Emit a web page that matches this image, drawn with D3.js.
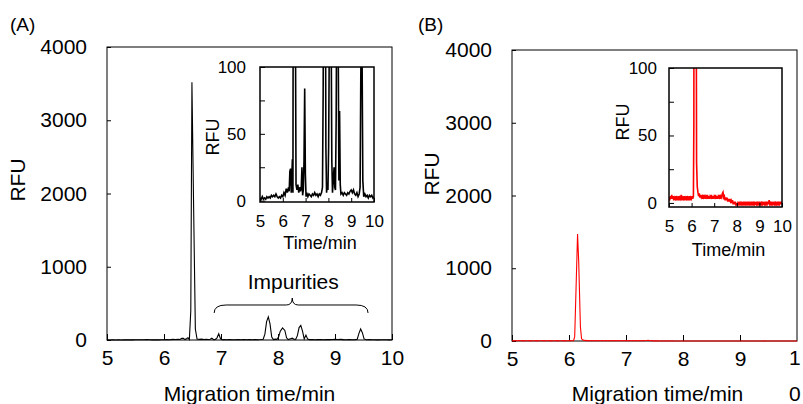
<!DOCTYPE html>
<html>
<head>
<meta charset="utf-8">
<script src="https://cdn.jsdelivr.net/npm/d3@7"></script>
<style>
body{margin:0;background:#fff;}
text{font-family:"Liberation Sans",Arial,sans-serif;fill:#000;}
</style>
</head>
<body>
<div id="container"></div>
<script>
var W = 803, H = 404;

// ticks
var xTicks = [5,6,7,8,9,10];
var mainYTicks = [0,1000,2000,3000,4000];
var insetYTicks = [0,50,100];
var insetMinor = [25,75];

// electropherogram (A) : [time/min, RFU]
var traceA = [
 [5.00,2],[5.05,1],[5.10,3],[5.15,1],[5.20,2],[5.25,1],[5.30,3],[5.35,2],[5.40,3],[5.45,2],
 [5.50,4],[5.55,3],[5.60,4],[5.65,3],[5.70,5],[5.75,3],[5.80,2],[5.85,3],[5.90,2],[5.95,4],
 [6.00,3],[6.05,6],[6.10,4],[6.15,9],[6.20,6],[6.25,10],[6.28,7],[6.31,22],[6.34,24],[6.37,6],
 [6.40,20],[6.42,31],[6.445,6],[6.47,400],[6.49,3520],[6.52,1800],[6.55,150],[6.58,12],[6.62,8],[6.66,12],
 [6.70,6],[6.74,10],[6.78,7],[6.81,10],[6.84,25],[6.87,4],[6.90,8],[6.93,30],[6.96,84],[6.99,20],
 [7.02,3],[7.05,6],[7.10,3],[7.15,5],[7.20,4],[7.25,3],[7.30,5],[7.35,4],[7.40,6],[7.45,4],
 [7.50,5],[7.55,3],[7.60,5],[7.65,4],[7.70,6],[7.74,10],[7.77,80],[7.80,250],[7.83,315],[7.86,220],
 [7.89,40],[7.92,6],[7.95,12],[7.98,8],[8.01,40],[8.04,120],[8.08,165],[8.12,130],[8.15,30],[8.18,6],
 [8.22,18],[8.25,25],[8.28,10],[8.31,8],[8.34,60],[8.37,170],[8.40,200],[8.43,120],[8.46,15],[8.49,67],
 [8.52,12],[8.55,5],[8.60,6],[8.65,4],[8.70,6],[8.75,5],[8.80,4],[8.85,6],[8.90,5],[8.95,7],
 [9.00,8],[9.05,6],[9.10,8],[9.15,5],[9.20,4],[9.25,6],[9.30,3],[9.35,5],[9.39,10],[9.42,90],
 [9.45,150],[9.48,100],[9.51,15],[9.55,3],[9.60,5],[9.65,3],[9.70,4],[9.75,2],[9.80,4],[9.85,3],
 [9.90,4],[9.95,2],[10.00,3]
];

// electropherogram (B)
var traceB = [
 [5.00,4],[5.03,2],[5.06,5],[5.09,3],[5.12,6],[5.15,3],[5.18,5],[5.21,2],[5.24,4],[5.27,3],
 [5.30,5],[5.33,2],[5.36,4],[5.39,3],[5.42,5],[5.45,2],[5.48,4],[5.51,3],[5.54,6],[5.57,2],
 [5.60,4],[5.63,3],[5.66,5],[5.69,2],[5.72,4],[5.75,3],[5.78,5],[5.81,2],[5.84,4],[5.87,3],
 [5.90,5],[5.93,2],[5.96,4],[5.99,3],[6.02,5],[6.05,3],[6.08,5],[6.10,60],[6.13,900],[6.15,1470],
 [6.17,1100],[6.20,200],[6.22,30],[6.25,12],[6.28,8],[6.31,5],[6.34,7],[6.37,4],[6.40,6],[6.43,4],
 [6.46,5],[6.49,3],[6.52,6],[6.55,4],[6.58,5],[6.61,3],[6.64,5],[6.67,4],[6.70,6],[6.73,3],
 [6.76,5],[6.79,3],[6.82,5],[6.85,4],[6.88,6],[6.91,3],[6.94,5],[6.97,3],[7.00,5],[7.03,4],
 [7.06,6],[7.09,3],[7.12,5],[7.15,3],[7.18,5],[7.21,4],[7.24,6],[7.27,3],[7.30,5],[7.33,4],
 [7.36,7],[7.39,8],[7.42,4],[7.45,5],[7.48,2],[7.51,4],[7.54,2],[7.57,4],[7.60,1],[7.63,3],
 [7.66,1],[7.69,3],[7.72,1],[7.75,2],[7.78,0],[7.81,2],[7.84,-1],[7.87,1],[7.90,-1],[7.93,1],
 [7.96,-2],[7.99,0],[8.02,-2],[8.05,0],[8.08,-1],[8.11,1],[8.14,-1],[8.17,0],[8.20,-2],[8.23,0],
 [8.26,-1],[8.29,1],[8.32,-1],[8.35,0],[8.38,-2],[8.41,0],[8.44,-1],[8.47,1],[8.50,-1],[8.53,0],
 [8.56,-2],[8.59,0],[8.62,-1],[8.65,1],[8.68,-1],[8.71,0],[8.74,-2],[8.77,1],[8.80,-1],[8.83,0],
 [8.86,-1],[8.89,1],[8.92,-2],[8.95,0],[8.98,-1],[9.01,1],[9.04,-1],[9.07,0],[9.10,-2],[9.13,1],
 [9.16,-1],[9.19,0],[9.22,-1],[9.25,1],[9.28,-2],[9.31,0],[9.34,-1],[9.37,1],[9.40,-1],[9.43,2],
 [9.46,-1],[9.49,0],[9.52,-2],[9.55,1],[9.58,-1],[9.61,0],[9.64,-1],[9.67,1],[9.70,-2],[9.73,0],
 [9.76,-1],[9.79,1],[9.82,-1],[9.85,0],[9.88,-2],[9.91,1],[9.94,-1],[9.97,1],[10.00,-1]
];

// brace over the impurity peaks: [start, tip, end] in min, [foot, mid, tip] in RFU
var braceX = [6.88, 8.25, 9.58];
var braceY = [369, 478, 573];

var fmt = d3.format("d");
var svg = d3.select("#container").append("svg").attr("width",W).attr("height",H);

function drawPanel(cfg){
	var g = svg.append("g");
	var x = d3.scaleLinear().domain([5,10]).range([cfg.m[0],cfg.m[1]]);
	var y = d3.scaleLinear().domain([0,4000]).range([cfg.m[3],cfg.m[2]]);
	var xi = d3.scaleLinear().domain([5,10]).range([cfg.i[0],cfg.i[1]]);
	var yi = d3.scaleLinear().domain([cfg.iLow,100]).range([cfg.i[3],cfg.i[2]]);

	// main frame
	g.append("rect")
		.attr("x",cfg.m[0]).attr("y",cfg.m[2])
		.attr("width",cfg.m[1]-cfg.m[0]).attr("height",cfg.m[3]-cfg.m[2])
		.attr("fill","none").attr("stroke","#000").attr("stroke-width",1);

	var xa = g.append("g").attr("transform","translate(0,"+cfg.m[3]+")")
		.call(d3.axisBottom(x).tickValues(cfg.mainX).tickFormat(fmt).tickSizeInner(-6).tickSizeOuter(0).tickPadding(10));
	var ya = g.append("g").attr("transform","translate("+cfg.m[0]+",0)")
		.call(d3.axisLeft(y).tickValues(mainYTicks).tickFormat(fmt).tickSizeInner(-4).tickSizeOuter(0).tickPadding(20));
	[xa,ya].forEach(function(a){
		a.select(".domain").remove();
		a.selectAll("text").style("font-size","21px").attr("fill","#000");
	});

	var line = d3.line().x(function(d){return x(d[0]);}).y(function(d){return y(Math.max(d[1],0));});
	g.append("path").datum(cfg.data).attr("d",line)
		.attr("fill","none").attr("stroke",cfg.color).attr("stroke-width",1.1);

	g.append("text").attr("transform","translate("+cfg.rfu[0]+","+cfg.rfu[1]+") rotate(-90)")
		.attr("text-anchor","middle").attr("dy","0.35em").style("font-size","21px").text("RFU");
	g.append("text").attr("x",(cfg.m[0]+cfg.m[1])/2+cfg.xlShift).attr("y",401)
		.attr("text-anchor","middle").style("font-size","21px").text("Migration time/min");
	g.append("text").attr("x",cfg.tag[0]).attr("y",cfg.tag[1])
		.style("font-size","19px").text(cfg.label);

	// inset
	var clipId = "clip"+cfg.label.replace(/\W/g,"");
	svg.append("clipPath").attr("id",clipId).append("rect")
		.attr("x",cfg.i[0]).attr("y",cfg.i[2])
		.attr("width",cfg.i[1]-cfg.i[0]).attr("height",cfg.i[3]-cfg.i[2]);
	var lineI = d3.line().x(function(d){return xi(d[0]);}).y(function(d){return yi(d[1]);});
	g.append("path").datum(cfg.data).attr("d",lineI).attr("clip-path","url(#"+clipId+")")
		.attr("fill","none").attr("stroke",cfg.color).attr("stroke-width",1.6);
	g.append("rect")
		.attr("x",cfg.i[0]).attr("y",cfg.i[2])
		.attr("width",cfg.i[1]-cfg.i[0]).attr("height",cfg.i[3]-cfg.i[2])
		.attr("fill","none").attr("stroke","#000").attr("stroke-width",1.5);

	var xia = g.append("g").attr("transform","translate(0,"+cfg.i[3]+")")
		.call(d3.axisBottom(xi).tickValues(xTicks).tickFormat(fmt).tickSizeInner(-4).tickSizeOuter(0).tickPadding(13));
	var yia = g.append("g").attr("transform","translate("+cfg.i[0]+",0)")
		.call(d3.axisLeft(yi).tickValues(insetYTicks).tickFormat(fmt).tickSizeInner(-5).tickSizeOuter(0).tickPadding(cfg.iPad));
	g.append("g").attr("transform","translate("+cfg.i[0]+",0)")
		.call(d3.axisLeft(yi).tickValues(insetMinor).tickFormat("").tickSizeInner(-5).tickSizeOuter(0))
		.select(".domain").remove();
	[xia,yia].forEach(function(a){
		a.select(".domain").remove();
		a.selectAll("text").style("font-size","17px").attr("fill","#000");
	});
	g.selectAll("line").attr("stroke","#000");

	g.append("text").attr("transform","translate("+cfg.irfu[0]+","+cfg.irfu[1]+") rotate(-90)")
		.attr("text-anchor","middle").attr("dy","0.35em").style("font-size","18px").text("RFU");
	g.append("text").attr("x",(cfg.i[0]+cfg.i[1])/2+3).attr("y",cfg.timeY)
		.attr("text-anchor","middle").style("font-size","18px").text("Time/min");

	return {g:g,x:x,y:y};
}

var A = drawPanel({
	label:"(A)", tag:[10,31], data:traceA, color:"#000",
	m:[107,392,47,340], i:[260,374,67,202], iLow:-1, iPad:14,
	mainX:xTicks, rfu:[18,180], irfu:[213,137], timeY:249, xlShift:0
});

var B = drawPanel({
	label:"(B)", tag:[418,31], data:traceB, color:"#ff0000",
	m:[512,797,50,341], i:[669,782,68,207], iLow:-3, iPad:12,
	mainX:[5,6,7,8,9], rfu:[432,174], irfu:[623,122], timeY:256, xlShift:3
});
// tick label "10" of panel B wraps at the page edge
B.g.append("text").attr("x",789).attr("y",365).style("font-size","21px").text("1");
B.g.append("text").attr("x",789).attr("y",401).style("font-size","21px").text("0");

// impurities brace
var bx = braceX.map(A.x), by = braceY.map(A.y);
var r = 6;
A.g.append("path")
	.attr("d","M"+bx[0]+","+by[0]+" Q"+bx[0]+","+by[1]+" "+(bx[0]+r*2)+","+by[1]+
		" L"+(bx[1]-r)+","+by[1]+" Q"+bx[1]+","+by[1]+" "+bx[1]+","+by[2]+
		" Q"+bx[1]+","+by[1]+" "+(bx[1]+r)+","+by[1]+
		" L"+(bx[2]-r*2)+","+by[1]+" Q"+bx[2]+","+by[1]+" "+bx[2]+","+by[0])
	.attr("fill","none").attr("stroke","#000").attr("stroke-width",1);
A.g.append("text").attr("x",bx[1]+1).attr("y",A.y(690)).attr("text-anchor","middle")
	.style("font-size","21px").text("Impurities");
</script>
</body>
</html>
